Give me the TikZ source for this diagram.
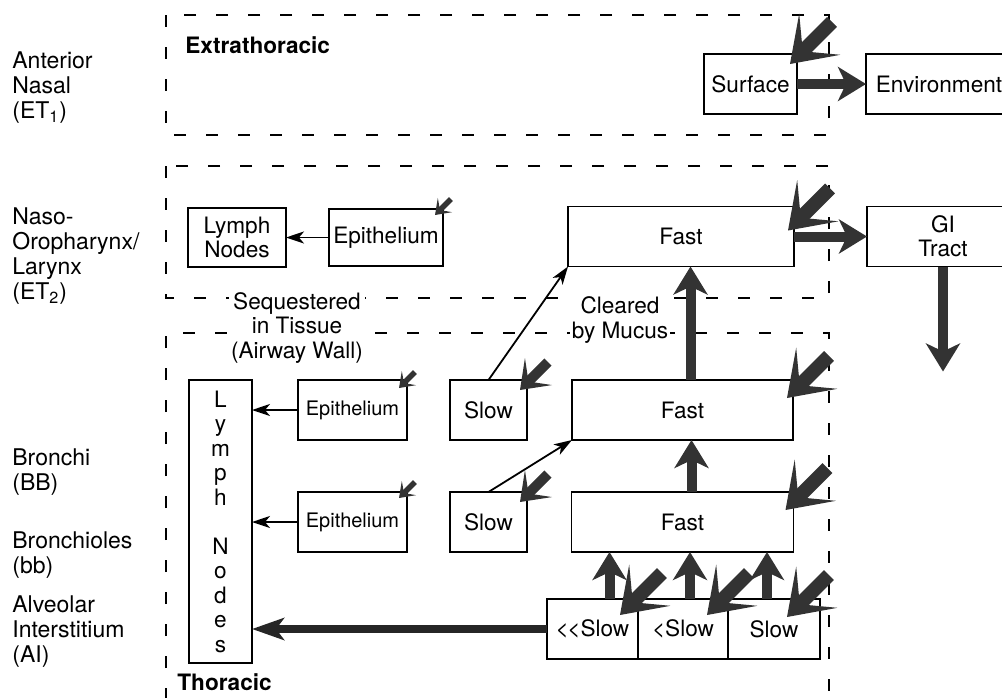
\documentclass[tikz,border=0pt]{standalone}
\usepackage{fontspec}
\setmainfont{TeX Gyre Heros}
\usetikzlibrary{arrows.meta,positioning}

\begin{document}
\begin{tikzpicture}[x=0.5pt, y=-0.5pt, every node/.style={font=\fontsize{11.3}{12}\selectfont},
  box/.style={draw, line width=0.9pt, outer sep=0pt, inner sep=2pt, align=center, minimum height=30pt},
  region/.style={anchor=west, align=left, inner sep=0pt, font=\fontsize{11.5}{12.5}\selectfont},
  part/.style={anchor=west, inner sep=0pt, font=\bfseries\fontsize{11.3}{12}\selectfont},
  wall/.style={fill=white, inner sep=1pt, align=center, font=\fontsize{11.3}{12.25}\selectfont},
  frame/.style={dash pattern=on 6pt off 10pt, line width=0.6pt},
  arr/.style={line width=0.9pt, -{Stealth[length=9pt, width=6pt, inset=2.5pt]}},
  fat/.style={line width=5pt, black!80, -{Stealth[length=14pt, width=17pt, inset=4pt]}},
  slowarr/.style={line width=4pt, black!85, -{Stealth[length=16pt, width=11pt, inset=4pt]}},
  bigdep/.style={line width=7pt, black!80, -{Stealth[length=21pt, width=29pt, inset=12pt]}},
  middep/.style={line width=5pt, black!80, -{Stealth[length=13pt, width=19pt, inset=7pt]}},
  smalldep/.style={line width=2.8pt, black!80, -{Stealth[length=7pt, width=10pt, inset=3.5pt]}}]
\useasboundingbox (0,0) rectangle (1002,697);
% regions
\draw[frame] (166,15) rectangle (829,135);
\draw[frame] (166,166) rectangle (829,298);
\draw[frame] (166,700) |- (829,333) -- (829,700);
\node[part] (extlbl) at (185,45) {Extrathoracic};
\node[part] (thorlbl) at (177,682) {Thoracic};
\node[wall] (seq) at (297,328) {Sequestered\\in Tissue\\(Airway Wall)};
\node[wall] (mucus) at (620,320) {Cleared\\by Mucus};
\node[region] (et1) at (12,88) {Anterior\\Nasal\\(ET\textsubscript{1})};
\node[region] (et2) at (12,256) {Naso-\\Oropharynx/\\Larynx\\(ET\textsubscript{2})};
\node[region] (bb) at (12,472) {Bronchi\\(BB)};
\node[region] (bbl) at (12,555) {Bronchioles\\(bb)};
\node[region] (ai) at (12,632) {Alveolar\\Interstitium\\(AI)};
% extrathoracic
\node[box, minimum width=46.5pt] (surf) at (750.5,84) {Surface};
\node[box, minimum width=73pt, right=34.5pt of surf] (env) {Environment};
\node[box, minimum width=57pt, minimum height=28.5pt] (epET) at (386,237.5) {Epithelium};
\node[box, minimum width=49pt, minimum height=29.5pt, left=21.5pt of epET] (lnET) {Lymph\\Nodes};
\node[box, minimum width=113pt] (fastET) at (681,236.5) {Fast};
\node[box, minimum width=76pt, right=36.5pt of fastET] (gi) {GI\\Tract};
\coordinate (giout) at ([yshift=-52.5pt]gi.south);
% thoracic
\node[box, minimum width=54.5pt, font=\fontsize{10}{12}\selectfont] (epBB) at (352.5,410) {Epithelium};
\node[box, minimum width=38.5pt, right=21.5pt of epBB] (slBB) {Slow};
\node[box, minimum width=110.5pt, right=22.5pt of slBB] (fastBB) {Fast};
\node[box, minimum width=54.5pt, font=\fontsize{10}{12}\selectfont, below=26pt of epBB] (epbb) {Epithelium};
\node[box, minimum width=38.5pt, below=26pt of slBB] (slbb) {Slow};
\node[box, minimum width=111pt, below=26pt of fastBB] (fastbb) {Fast};
\node[box, minimum width=31.5pt, minimum height=141.5pt, font=\fontsize{11.3}{12.25}\selectfont,
  below left=0pt and 23pt of epBB.north west] (lnTh) {L\\y\\m\\p\\h\\[12.25pt]N\\o\\d\\e\\s};
\node[box, minimum width=45.5pt] (aiA) at (592.5,629) {<\kern-0.8pt<Slow};
\node[box, minimum width=45pt, right=0pt of aiA] (aiB) {<Slow};
\node[box, minimum width=46pt, right=0pt of aiB] (aiC) {Slow};
% clearance
\draw[fat] (surf.east) -- (surf.east -| env.west);
\draw[fat] (fastET.east) -- (gi.west);
\draw[fat] (gi.south) -- (giout);
\draw[fat] ([xshift=4pt]fastBB.north) -- ([xshift=4pt]fastBB.north |- fastET.south);
\draw[fat] ([xshift=4.5pt]fastbb.north) -- ([xshift=4.5pt]fastbb.north |- fastBB.south);
\foreach \n/\s in {aiA/8.5pt, aiB/3.5pt, aiC/-3.5pt}
  \draw[fat] ([xshift=\s]\n.north) -- ([xshift=\s]\n.north |- fastbb.south);
\draw[arr] (epET.west) -- (lnET.east);
\draw[arr] (epBB.west) -- (epBB.west -| lnTh.east);
\draw[arr] (epbb.west) -- (epbb.west -| lnTh.east);
\draw[arr] (slBB.north) -- (fastET.south west);
\draw[arr] (slbb.north) -- (fastBB.south west);
\draw[slowarr] (aiA.west) -- (aiA.west -| lnTh.east);
% deposition
\foreach \n/\dx/\dy in {surf/-7/10, fastET/-6/24, fastBB/-6/18, fastbb/-8/18, aiA/-18/16, aiB/-21/16, aiC/-33/18} {
  \coordinate (\n-tip) at ([shift={(\dx,\dy)}]\n.north east);
  \coordinate (\n-src) at ([shift={(21pt,21pt)}]\n-tip);
  \draw[bigdep] (\n-src) -- (\n-tip);
}
\foreach \n in {slBB, slbb} {
  \coordinate (\n-tip) at ([shift={(-7,10)}]\n.north east);
  \coordinate (\n-src) at ([shift={(14pt,14pt)}]\n-tip);
  \draw[middep] (\n-src) -- (\n-tip);
}
\foreach \n/\dy in {epET/6, epBB/8, epbb/6} {
  \coordinate (\n-tip) at ([shift={(-8,\dy)}]\n.north east);
  \coordinate (\n-src) at ([shift={(8pt,8pt)}]\n-tip);
  \draw[smalldep] (\n-src) -- (\n-tip);
}
\end{tikzpicture}
\end{document}
